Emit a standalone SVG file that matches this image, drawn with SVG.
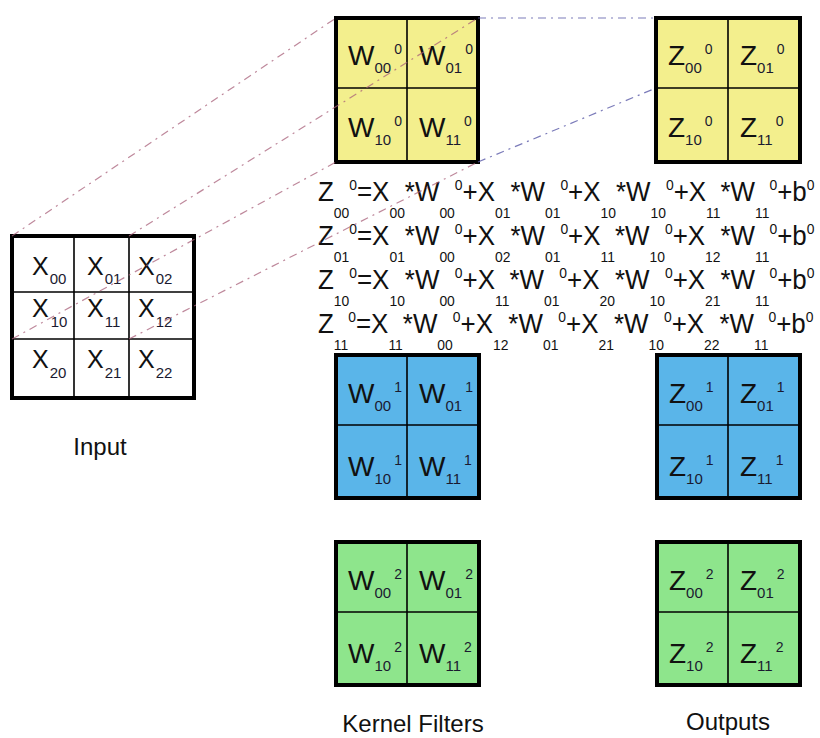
<svg xmlns="http://www.w3.org/2000/svg" width="820" height="738" viewBox="0 0 820 738">
<style>
.bg{fill:#ffffff}
.outer{fill:none;stroke:#000;stroke-width:4}
.inner{stroke:#000;stroke-width:1.6}
.y{fill:#f3ef8d}
.b{fill:#5ab5e9}
.g{fill:#8ee58c}
.w{fill:#ffffff}
.c{font-family:"Liberation Sans",Arial,sans-serif;font-size:28px;fill:#111}
.x{font-family:"Liberation Sans",Arial,sans-serif;font-size:25px;fill:#111}
.cs{font-size:15px;fill:#1a1a30}
.cp{font-size:14px;fill:#1a1a30}
.eq{font-family:"Liberation Sans",Arial,sans-serif;font-size:28px;fill:#111}
.es{font-size:15px}
.lbl{font-family:"Liberation Sans",Arial,sans-serif;font-size:24px;fill:#111;text-anchor:middle}
.dr{fill:none;stroke:#a8607a;stroke-width:1.2;stroke-dasharray:8 5 2 5;stroke-opacity:0.75}
.db{fill:none;stroke:#5a5aa8;stroke-width:1.2;stroke-dasharray:8 5 2 5;stroke-opacity:0.8}
</style>
<rect class="bg" x="0" y="0" width="820" height="738"/>

<g id="input">
<rect class="w" x="12" y="236" width="182" height="162"/>
<line class="inner" x1="74" y1="236" x2="74" y2="398"/>
<line class="inner" x1="129" y1="236" x2="129" y2="398"/>
<line class="inner" x1="12" y1="292" x2="194" y2="292"/>
<line class="inner" x1="12" y1="339" x2="194" y2="339"/>
<rect class="outer" x="12" y="236" width="182" height="162"/>
<text class="x" x="32" y="275">X<tspan class="cs" dx="1" dy="9">00</tspan></text>
<text class="x" x="87" y="275">X<tspan class="cs" dx="1" dy="9">01</tspan></text>
<text class="x" x="138" y="275">X<tspan class="cs" dx="1" dy="9">02</tspan></text>
<text class="x" x="32" y="317">X<tspan class="cs" dx="2" dy="10">10</tspan></text>
<text class="x" x="87" y="317">X<tspan class="cs" dx="1" dy="10">11</tspan></text>
<text class="x" x="138" y="317">X<tspan class="cs" dx="1" dy="10">12</tspan></text>
<text class="x" x="32" y="368">X<tspan class="cs" dx="1" dy="10">20</tspan></text>
<text class="x" x="87" y="368">X<tspan class="cs" dx="1" dy="10">21</tspan></text>
<text class="x" x="138" y="368">X<tspan class="cs" dx="1" dy="10">22</tspan></text>
<text class="lbl" x="100" y="455">Input</text>
</g>

<g id="kernel0">
<rect class="y" x="336" y="18" width="142" height="144"/>
<line class="inner" x1="407" y1="18" x2="407" y2="162"/>
<line class="inner" x1="336" y1="88" x2="478" y2="88"/>
<rect class="outer" x="336" y="18" width="142" height="144"/>
<text class="c" x="348" y="65">W<tspan class="cs" dy="8">00</tspan><tspan class="cp" dx="3" dy="-19">0</tspan></text>
<text class="c" x="419" y="65">W<tspan class="cs" dy="8">01</tspan><tspan class="cp" dx="3" dy="-19">0</tspan></text>
<text class="c" x="348" y="137">W<tspan class="cs" dy="8">10</tspan><tspan class="cp" dx="3" dy="-19">0</tspan></text>
<text class="c" x="419" y="137">W<tspan class="cs" dy="8">11</tspan><tspan class="cp" dx="3" dy="-19">0</tspan></text>
</g>

<g id="output0">
<rect class="y" x="656" y="18" width="144" height="144"/>
<line class="inner" x1="728" y1="18" x2="728" y2="162"/>
<line class="inner" x1="656" y1="88" x2="800" y2="88"/>
<rect class="outer" x="656" y="18" width="144" height="144"/>
<text class="c" x="668" y="65">Z<tspan class="cs" dy="8">00</tspan><tspan class="cp" dx="3" dy="-19">0</tspan></text>
<text class="c" x="740" y="65">Z<tspan class="cs" dy="8">01</tspan><tspan class="cp" dx="3" dy="-19">0</tspan></text>
<text class="c" x="668" y="137">Z<tspan class="cs" dy="8">10</tspan><tspan class="cp" dx="3" dy="-19">0</tspan></text>
<text class="c" x="740" y="137">Z<tspan class="cs" dy="8">11</tspan><tspan class="cp" dx="3" dy="-19">0</tspan></text>
</g>

<g id="equations" transform="translate(318,0) scale(0.926,1)">
<text class="eq" x="0" y="201">Z<tspan class="es" dy="17">00</tspan><tspan class="es" dy="-28">0</tspan><tspan dy="11">=X</tspan><tspan class="es" dy="17">00</tspan><tspan dy="-17">*W</tspan><tspan class="es" dy="17">00</tspan><tspan class="es" dy="-28">0</tspan><tspan dy="11">+X</tspan><tspan class="es" dy="17">01</tspan><tspan dy="-17">*W</tspan><tspan class="es" dy="17">01</tspan><tspan class="es" dy="-28">0</tspan><tspan dy="11">+X</tspan><tspan class="es" dy="17">10</tspan><tspan dy="-17">*W</tspan><tspan class="es" dy="17">10</tspan><tspan class="es" dy="-28">0</tspan><tspan dy="11">+X</tspan><tspan class="es" dy="17">11</tspan><tspan dy="-17">*W</tspan><tspan class="es" dy="17">11</tspan><tspan class="es" dy="-28">0</tspan><tspan dy="11">+b</tspan><tspan class="es" dy="-11">0</tspan></text>
<text class="eq" x="0" y="245">Z<tspan class="es" dy="17">01</tspan><tspan class="es" dy="-28">0</tspan><tspan dy="11">=X</tspan><tspan class="es" dy="17">01</tspan><tspan dy="-17">*W</tspan><tspan class="es" dy="17">00</tspan><tspan class="es" dy="-28">0</tspan><tspan dy="11">+X</tspan><tspan class="es" dy="17">02</tspan><tspan dy="-17">*W</tspan><tspan class="es" dy="17">01</tspan><tspan class="es" dy="-28">0</tspan><tspan dy="11">+X</tspan><tspan class="es" dy="17">11</tspan><tspan dy="-17">*W</tspan><tspan class="es" dy="17">10</tspan><tspan class="es" dy="-28">0</tspan><tspan dy="11">+X</tspan><tspan class="es" dy="17">12</tspan><tspan dy="-17">*W</tspan><tspan class="es" dy="17">11</tspan><tspan class="es" dy="-28">0</tspan><tspan dy="11">+b</tspan><tspan class="es" dy="-11">0</tspan></text>
<text class="eq" x="0" y="289">Z<tspan class="es" dy="17">10</tspan><tspan class="es" dy="-28">0</tspan><tspan dy="11">=X</tspan><tspan class="es" dy="17">10</tspan><tspan dy="-17">*W</tspan><tspan class="es" dy="17">00</tspan><tspan class="es" dy="-28">0</tspan><tspan dy="11">+X</tspan><tspan class="es" dy="17">11</tspan><tspan dy="-17">*W</tspan><tspan class="es" dy="17">01</tspan><tspan class="es" dy="-28">0</tspan><tspan dy="11">+X</tspan><tspan class="es" dy="17">20</tspan><tspan dy="-17">*W</tspan><tspan class="es" dy="17">10</tspan><tspan class="es" dy="-28">0</tspan><tspan dy="11">+X</tspan><tspan class="es" dy="17">21</tspan><tspan dy="-17">*W</tspan><tspan class="es" dy="17">11</tspan><tspan class="es" dy="-28">0</tspan><tspan dy="11">+b</tspan><tspan class="es" dy="-11">0</tspan></text>
<text class="eq" x="0" y="333">Z<tspan class="es" dy="17">11</tspan><tspan class="es" dy="-28">0</tspan><tspan dy="11">=X</tspan><tspan class="es" dy="17">11</tspan><tspan dy="-17">*W</tspan><tspan class="es" dy="17">00</tspan><tspan class="es" dy="-28">0</tspan><tspan dy="11">+X</tspan><tspan class="es" dy="17">12</tspan><tspan dy="-17">*W</tspan><tspan class="es" dy="17">01</tspan><tspan class="es" dy="-28">0</tspan><tspan dy="11">+X</tspan><tspan class="es" dy="17">21</tspan><tspan dy="-17">*W</tspan><tspan class="es" dy="17">10</tspan><tspan class="es" dy="-28">0</tspan><tspan dy="11">+X</tspan><tspan class="es" dy="17">22</tspan><tspan dy="-17">*W</tspan><tspan class="es" dy="17">11</tspan><tspan class="es" dy="-28">0</tspan><tspan dy="11">+b</tspan><tspan class="es" dy="-11">0</tspan></text>
</g>

<g id="kernel1">
<rect class="b" x="336" y="355" width="143" height="143"/>
<line class="inner" x1="407" y1="355" x2="407" y2="498"/>
<line class="inner" x1="336" y1="425" x2="479" y2="425"/>
<rect class="outer" x="336" y="355" width="143" height="143"/>
<text class="c" x="348" y="403">W<tspan class="cs" dy="8">00</tspan><tspan class="cp" dx="3" dy="-19">1</tspan></text>
<text class="c" x="419" y="403">W<tspan class="cs" dy="8">01</tspan><tspan class="cp" dx="3" dy="-19">1</tspan></text>
<text class="c" x="348" y="476">W<tspan class="cs" dy="8">10</tspan><tspan class="cp" dx="3" dy="-19">1</tspan></text>
<text class="c" x="419" y="476">W<tspan class="cs" dy="8">11</tspan><tspan class="cp" dx="3" dy="-19">1</tspan></text>
</g>

<g id="output1">
<rect class="b" x="657" y="355" width="143" height="143"/>
<line class="inner" x1="728" y1="355" x2="728" y2="498"/>
<line class="inner" x1="657" y1="425" x2="800" y2="425"/>
<rect class="outer" x="657" y="355" width="143" height="143"/>
<text class="c" x="669" y="403">Z<tspan class="cs" dy="8">00</tspan><tspan class="cp" dx="3" dy="-19">1</tspan></text>
<text class="c" x="740" y="403">Z<tspan class="cs" dy="8">01</tspan><tspan class="cp" dx="3" dy="-19">1</tspan></text>
<text class="c" x="669" y="476">Z<tspan class="cs" dy="8">10</tspan><tspan class="cp" dx="3" dy="-19">1</tspan></text>
<text class="c" x="740" y="476">Z<tspan class="cs" dy="8">11</tspan><tspan class="cp" dx="3" dy="-19">1</tspan></text>
</g>

<g id="kernel2">
<rect class="g" x="336" y="542" width="143" height="143"/>
<line class="inner" x1="407" y1="542" x2="407" y2="685"/>
<line class="inner" x1="336" y1="612" x2="479" y2="612"/>
<rect class="outer" x="336" y="542" width="143" height="143"/>
<text class="c" x="348" y="590">W<tspan class="cs" dy="8">00</tspan><tspan class="cp" dx="3" dy="-19">2</tspan></text>
<text class="c" x="419" y="590">W<tspan class="cs" dy="8">01</tspan><tspan class="cp" dx="3" dy="-19">2</tspan></text>
<text class="c" x="348" y="663">W<tspan class="cs" dy="8">10</tspan><tspan class="cp" dx="3" dy="-19">2</tspan></text>
<text class="c" x="419" y="663">W<tspan class="cs" dy="8">11</tspan><tspan class="cp" dx="3" dy="-19">2</tspan></text>
<text class="lbl" x="413" y="732">Kernel Filters</text>
</g>

<g id="output2">
<rect class="g" x="657" y="542" width="143" height="143"/>
<line class="inner" x1="728" y1="542" x2="728" y2="685"/>
<line class="inner" x1="657" y1="612" x2="800" y2="612"/>
<rect class="outer" x="657" y="542" width="143" height="143"/>
<text class="c" x="669" y="590">Z<tspan class="cs" dy="8">00</tspan><tspan class="cp" dx="3" dy="-19">2</tspan></text>
<text class="c" x="740" y="590">Z<tspan class="cs" dy="8">01</tspan><tspan class="cp" dx="3" dy="-19">2</tspan></text>
<text class="c" x="669" y="663">Z<tspan class="cs" dy="8">10</tspan><tspan class="cp" dx="3" dy="-19">2</tspan></text>
<text class="c" x="740" y="663">Z<tspan class="cs" dy="8">11</tspan><tspan class="cp" dx="3" dy="-19">2</tspan></text>
<text class="lbl" x="728" y="730">Outputs</text>
</g>

<g id="connectors">
<line class="dr" x1="12" y1="236" x2="336" y2="18"/>
<line class="dr" x1="129" y1="236" x2="478" y2="18"/>
<line class="dr" x1="12" y1="339" x2="336" y2="162"/>
<line class="dr" x1="129" y1="339" x2="478" y2="162"/>
<line class="db" x1="478" y1="18" x2="656" y2="18"/>
<line class="db" x1="478" y1="162" x2="656" y2="88"/>
</g>
</svg>
